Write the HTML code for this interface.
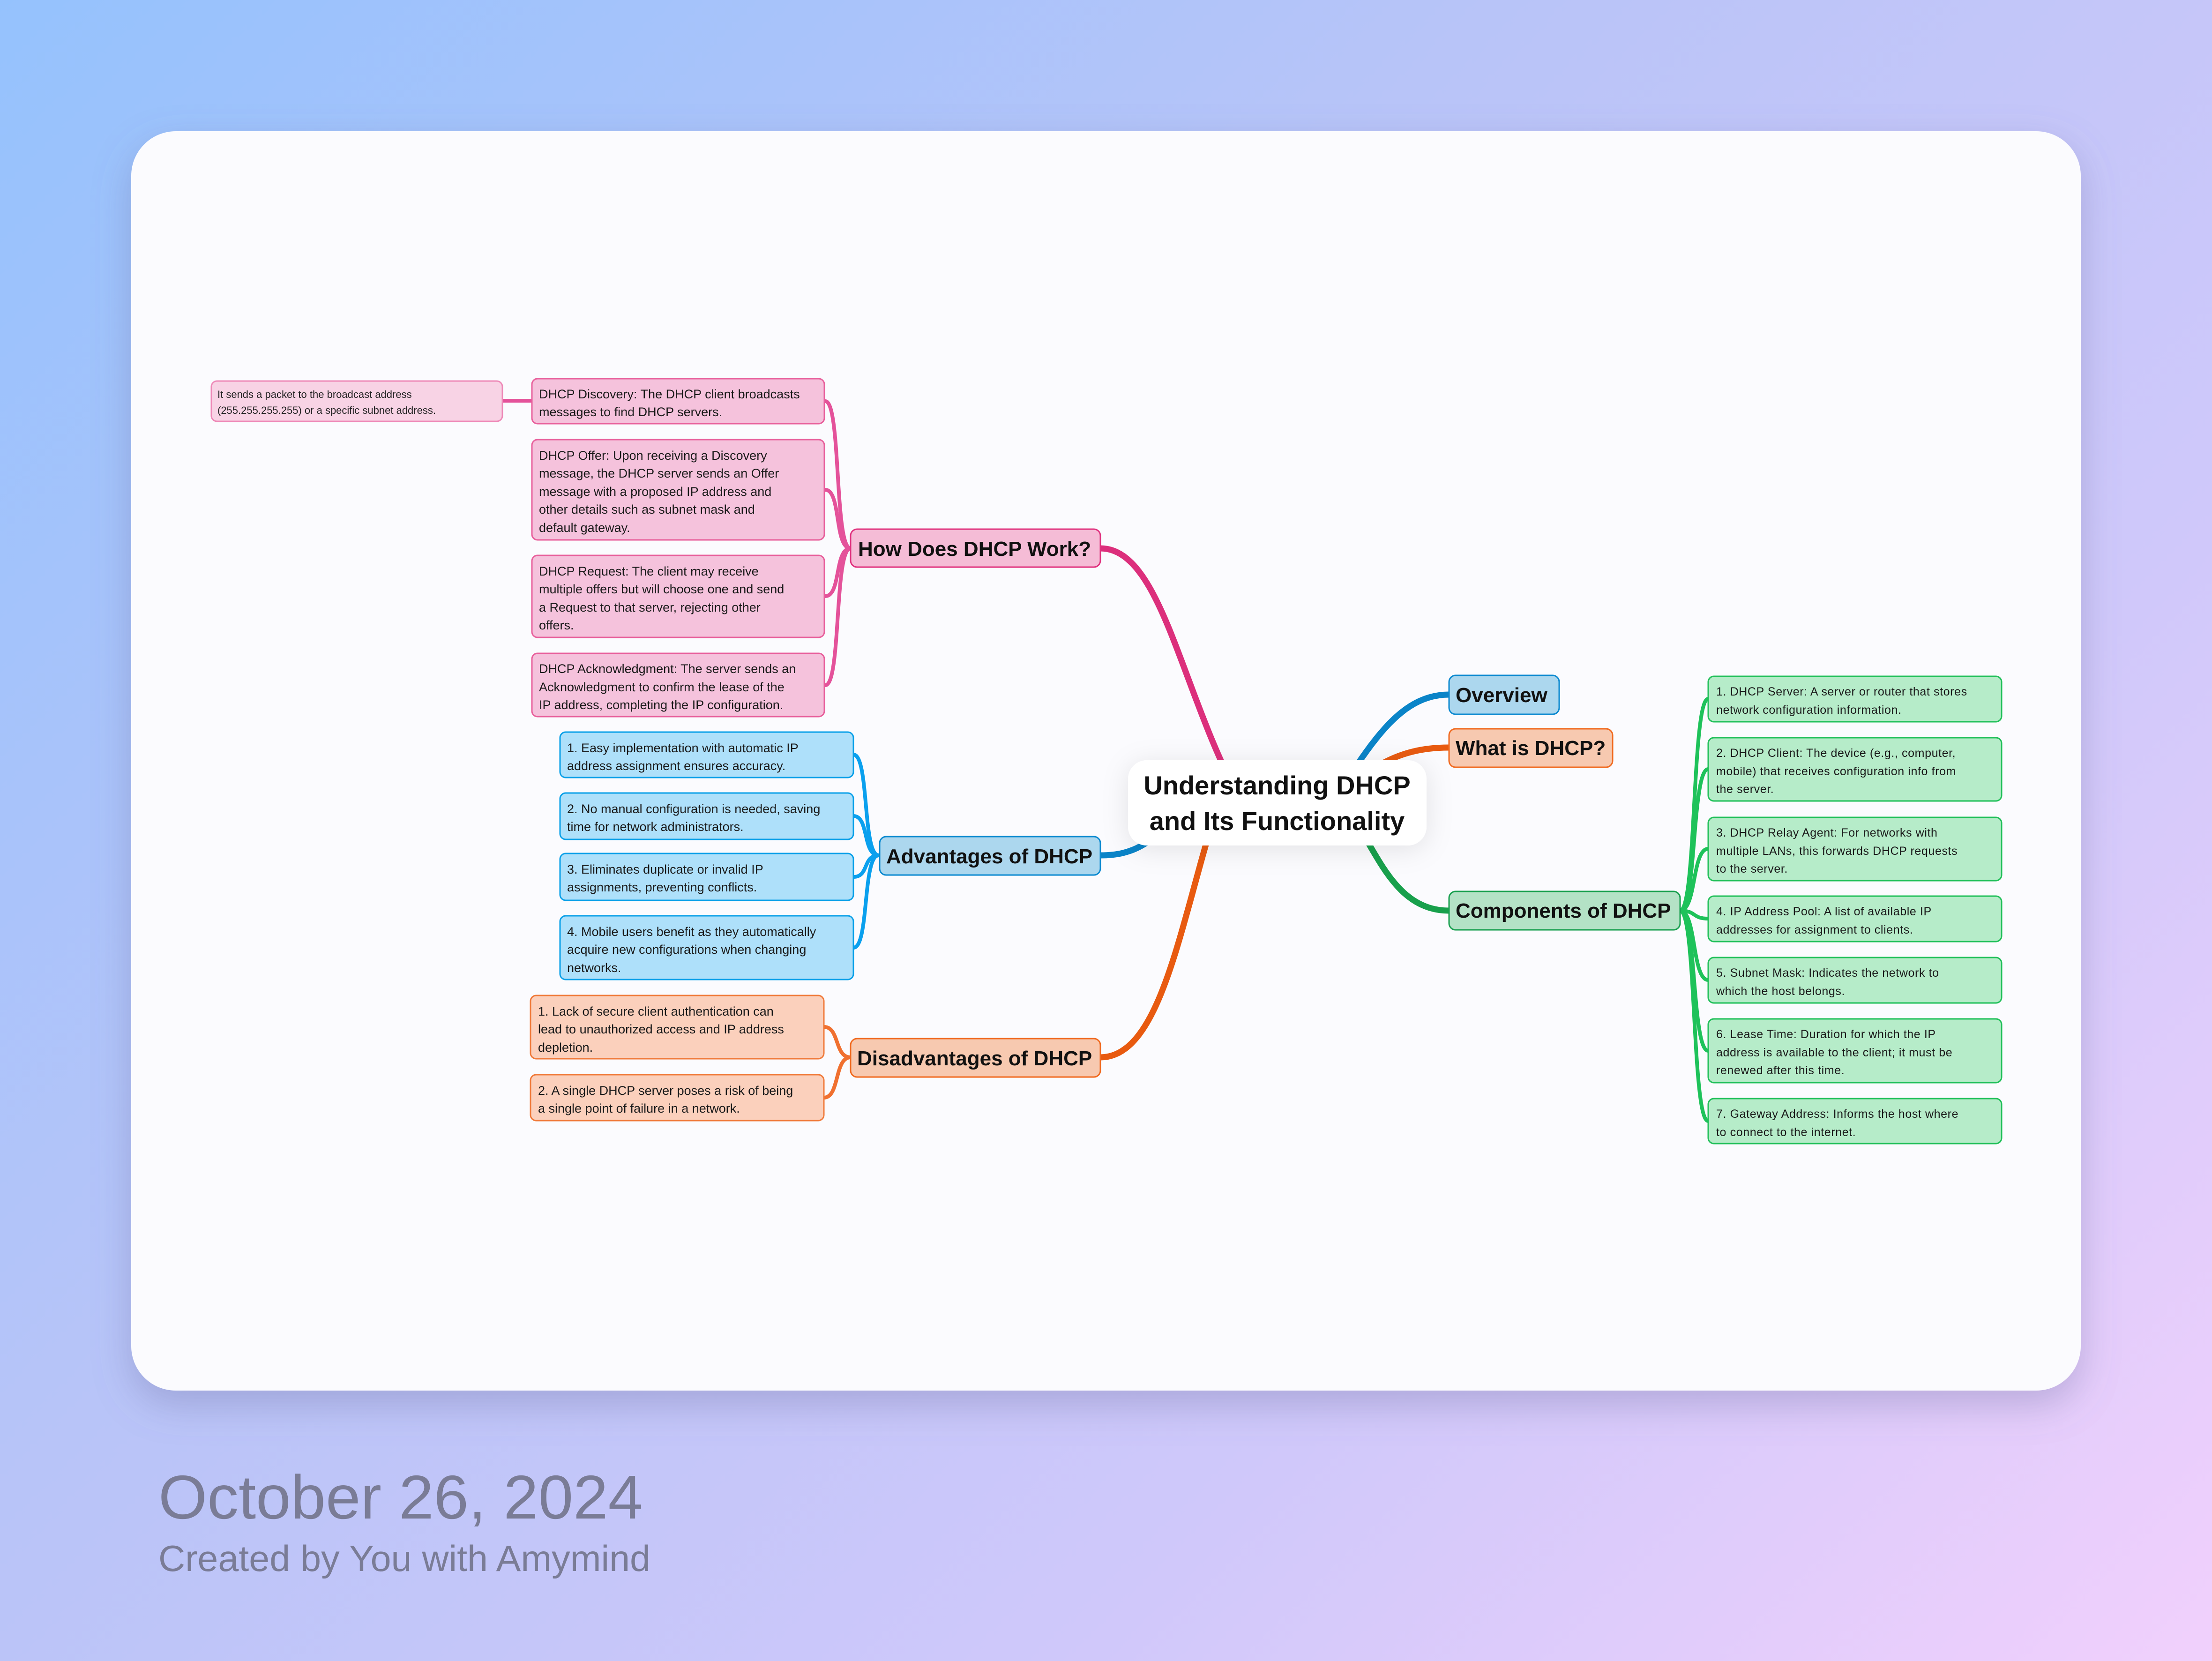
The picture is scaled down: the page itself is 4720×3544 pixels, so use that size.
<!DOCTYPE html>
<html><head><meta charset="utf-8">
<style>
html,body{margin:0;padding:0;width:4720px;height:3544px;overflow:hidden;}
body{background:linear-gradient(135deg,#95c2fd 0%,#b9c4f8 40%,#cfc8fa 70%,#f1d0fc 100%);}
svg{display:block;}
text{font-family:"Liberation Sans",sans-serif;}
.lf{font-size:27px;fill:#1a1a1a;}
.lg{font-size:25px;fill:#1a1a1a;letter-spacing:0.6px;}
.mn{font-size:44px;font-weight:bold;fill:#111;}
</style></head>
<body>
<svg width="4720" height="3544" viewBox="0 0 4720 3544" xmlns="http://www.w3.org/2000/svg">
<defs>
<filter id="cs" x="-10%" y="-10%" width="120%" height="125%">
<feDropShadow dx="0" dy="30" stdDeviation="40" flood-color="#6a6aa0" flood-opacity="0.35"/>
</filter>
<filter id="ns" x="-30%" y="-50%" width="160%" height="200%">
<feDropShadow dx="0" dy="8" stdDeviation="28" flood-color="#000" flood-opacity="0.10"/>
</filter>
</defs>
<rect x="280" y="280" width="4160" height="2687" rx="95" fill="#fbfbfe" filter="url(#cs)"/>

<!-- main connectors -->
<g fill="none" stroke-width="13" stroke-linecap="round">
<path d="M2348,1170 C2480,1170 2520,1480 2650,1713" stroke="#dc2f7c"/>
<path d="M2348,1825 C2420,1825 2450,1800 2520,1740" stroke="#0a84c8"/>
<path d="M2348,2256 C2480,2256 2520,1960 2600,1713" stroke="#e85a10"/>
<path d="M3092,1482 C2980,1482 2920,1600 2840,1713" stroke="#0a84c8"/>
<path d="M3092,1595 C2980,1595 2920,1640 2840,1713" stroke="#e85a10"/>
<path d="M3092,1943 C2960,1943 2930,1780 2860,1713" stroke="#18a04c"/>
</g>
<!-- leaf connectors -->
<g fill="none" stroke-width="8" stroke-linecap="round">
<g stroke="#e4529a">
<path d="M1815,1170 C1780,1170 1795,856 1761,856"/>
<path d="M1815,1170 C1780,1170 1795,1045 1761,1045"/>
<path d="M1815,1170 C1780,1170 1795,1272 1761,1272"/>
<path d="M1815,1170 C1780,1170 1795,1462 1761,1462"/>
<path d="M1072,855 L1135,855"/>
</g>
<g stroke="#0aa0ee">
<path d="M1875,1825 C1840,1825 1855,1610 1821,1610"/>
<path d="M1875,1825 C1840,1825 1855,1741 1821,1741"/>
<path d="M1875,1825 C1840,1825 1855,1871 1821,1871"/>
<path d="M1875,1825 C1840,1825 1855,2022 1821,2022"/>
</g>
<g stroke="#f07030">
<path d="M1815,2256 C1780,2256 1792,2191 1758,2191"/>
<path d="M1815,2256 C1780,2256 1792,2342 1758,2342"/>
</g>
<g stroke="#1ec25a">
<path d="M3585,1943 C3620,1943 3610,1491 3645,1491"/>
<path d="M3585,1943 C3620,1943 3610,1641 3645,1641"/>
<path d="M3585,1943 C3620,1943 3610,1811 3645,1811"/>
<path d="M3585,1943 C3620,1943 3610,1960 3645,1960"/>
<path d="M3585,1943 C3620,1943 3610,2091 3645,2091"/>
<path d="M3585,1943 C3620,1943 3610,2242 3645,2242"/>
<path d="M3585,1943 C3620,1943 3610,2392 3645,2392"/>
</g>
</g>

<!-- center node -->
<rect x="2407" y="1622" width="637" height="182" rx="40" fill="#ffffff" filter="url(#ns)"/>
<text x="2725" y="1695" text-anchor="middle" style="font-size:56px;font-weight:bold;fill:#111">Understanding DHCP</text>
<text x="2725" y="1771" text-anchor="middle" style="font-size:56px;font-weight:bold;fill:#111">and Its Functionality</text>

<!-- main nodes -->
<g stroke-width="3">
<rect x="1815" y="1129" width="533" height="81" rx="14" fill="#f5bcd6" stroke="#e0337f"/>
<rect x="1877" y="1785" width="471" height="82" rx="14" fill="#acd7ee" stroke="#0d8ad0"/>
<rect x="1815" y="2216" width="533" height="82" rx="14" fill="#f7c9b0" stroke="#f06a20"/>
<rect x="3092" y="1441" width="235" height="83" rx="14" fill="#acd7ee" stroke="#0d8ad0"/>
<rect x="3092" y="1555" width="349" height="82" rx="14" fill="#f7c9b0" stroke="#f06a20"/>
<rect x="3092" y="1902" width="493" height="82" rx="14" fill="#b4e2c6" stroke="#1aa050"/>
</g>
<text class="mn" x="1831" y="1186">How Does DHCP Work?</text>
<text class="mn" x="1891" y="1842">Advantages of DHCP</text>
<text class="mn" x="1829" y="2273">Disadvantages of DHCP</text>
<text class="mn" x="3106" y="1498">Overview</text>
<text class="mn" x="3106" y="1611">What is DHCP?</text>
<text class="mn" x="3106" y="1958">Components of DHCP</text>

<!-- pink leaves -->
<g stroke-width="3" fill="#f5c2dc" stroke="#e8609c">
<rect x="451" y="813" width="621" height="86" rx="12" fill="#f8d3e5" stroke="#ee8ab8"/>
<rect x="1135" y="808" width="624" height="96" rx="12"/>
<rect x="1135" y="938" width="624" height="214" rx="12"/>
<rect x="1135" y="1185" width="624" height="175" rx="12"/>
<rect x="1135" y="1394" width="624" height="135" rx="12"/>
</g>
<text x="464" y="849" style="font-size:22px;fill:#222">It sends a packet to the broadcast address</text>
<text x="464" y="883" style="font-size:22px;fill:#222">(255.255.255.255) or a specific subnet address.</text>
<g class="lf">
<text class="lf" x="1150" y="850">DHCP Discovery: The DHCP client broadcasts</text>
<text class="lf" x="1150" y="888">messages to find DHCP servers.</text>
<text class="lf" x="1150" y="981">DHCP Offer: Upon receiving a Discovery</text>
<text class="lf" x="1150" y="1019">message, the DHCP server sends an Offer</text>
<text class="lf" x="1150" y="1058">message with a proposed IP address and</text>
<text class="lf" x="1150" y="1096">other details such as subnet mask and</text>
<text class="lf" x="1150" y="1135">default gateway.</text>
<text class="lf" x="1150" y="1228">DHCP Request: The client may receive</text>
<text class="lf" x="1150" y="1266">multiple offers but will choose one and send</text>
<text class="lf" x="1150" y="1305">a Request to that server, rejecting other</text>
<text class="lf" x="1150" y="1343">offers.</text>
<text class="lf" x="1150" y="1436">DHCP Acknowledgment: The server sends an</text>
<text class="lf" x="1150" y="1475">Acknowledgment to confirm the lease of the</text>
<text class="lf" x="1150" y="1513">IP address, completing the IP configuration.</text>
</g>

<!-- blue leaves -->
<g stroke-width="3" fill="#aee0fa" stroke="#0aa0e8">
<rect x="1195" y="1562" width="626" height="97" rx="12"/>
<rect x="1195" y="1692" width="626" height="99" rx="12"/>
<rect x="1195" y="1821" width="626" height="100" rx="12"/>
<rect x="1195" y="1954" width="626" height="136" rx="12"/>
</g>
<text class="lf" x="1210" y="1605">1. Easy implementation with automatic IP</text>
<text class="lf" x="1210" y="1643">address assignment ensures accuracy.</text>
<text class="lf" x="1210" y="1735">2. No manual configuration is needed, saving</text>
<text class="lf" x="1210" y="1773">time for network administrators.</text>
<text class="lf" x="1210" y="1864">3. Eliminates duplicate or invalid IP</text>
<text class="lf" x="1210" y="1902">assignments, preventing conflicts.</text>
<text class="lf" x="1210" y="1997">4. Mobile users benefit as they automatically</text>
<text class="lf" x="1210" y="2035">acquire new configurations when changing</text>
<text class="lf" x="1210" y="2074">networks.</text>

<!-- orange leaves -->
<g stroke-width="3" fill="#fbd0bc" stroke="#f07a3a">
<rect x="1132" y="2124" width="626" height="135" rx="12"/>
<rect x="1132" y="2293" width="626" height="98" rx="12"/>
</g>
<text class="lf" x="1148" y="2167">1. Lack of secure client authentication can</text>
<text class="lf" x="1148" y="2205">lead to unauthorized access and IP address</text>
<text class="lf" x="1148" y="2244">depletion.</text>
<text class="lf" x="1148" y="2336">2. A single DHCP server poses a risk of being</text>
<text class="lf" x="1148" y="2374">a single point of failure in a network.</text>

<!-- green leaves -->
<g stroke-width="3" fill="#b6ecc9" stroke="#22c05a">
<rect x="3645" y="1443" width="626" height="97" rx="12"/>
<rect x="3645" y="1574" width="626" height="135" rx="12"/>
<rect x="3645" y="1744" width="626" height="135" rx="12"/>
<rect x="3645" y="1912" width="626" height="97" rx="12"/>
<rect x="3645" y="2043" width="626" height="97" rx="12"/>
<rect x="3645" y="2174" width="626" height="136" rx="12"/>
<rect x="3645" y="2344" width="626" height="96" rx="12"/>
</g>
<text class="lg" x="3662" y="1484">1. DHCP Server: A server or router that stores</text>
<text class="lg" x="3662" y="1523">network configuration information.</text>
<text class="lg" x="3662" y="1615">2. DHCP Client: The device (e.g., computer,</text>
<text class="lg" x="3662" y="1654">mobile) that receives configuration info from</text>
<text class="lg" x="3662" y="1692">the server.</text>
<text class="lg" x="3662" y="1785">3. DHCP Relay Agent: For networks with</text>
<text class="lg" x="3662" y="1824">multiple LANs, this forwards DHCP requests</text>
<text class="lg" x="3662" y="1862">to the server.</text>
<text class="lg" x="3662" y="1953">4. IP Address Pool: A list of available IP</text>
<text class="lg" x="3662" y="1992">addresses for assignment to clients.</text>
<text class="lg" x="3662" y="2084">5. Subnet Mask: Indicates the network to</text>
<text class="lg" x="3662" y="2123">which the host belongs.</text>
<text class="lg" x="3662" y="2215">6. Lease Time: Duration for which the IP</text>
<text class="lg" x="3662" y="2254">address is available to the client; it must be</text>
<text class="lg" x="3662" y="2292">renewed after this time.</text>
<text class="lg" x="3662" y="2385">7. Gateway Address: Informs the host where</text>
<text class="lg" x="3662" y="2424">to connect to the internet.</text>

<!-- footer -->
<text x="338" y="3240" textLength="1034" lengthAdjust="spacingAndGlyphs" style="font-size:132px;fill:#7a7c96">October 26, 2024</text>
<text x="338" y="3352" textLength="1050" lengthAdjust="spacingAndGlyphs" style="font-size:78px;fill:#7a7c96">Created by You with Amymind</text>
</svg>
</body></html>
